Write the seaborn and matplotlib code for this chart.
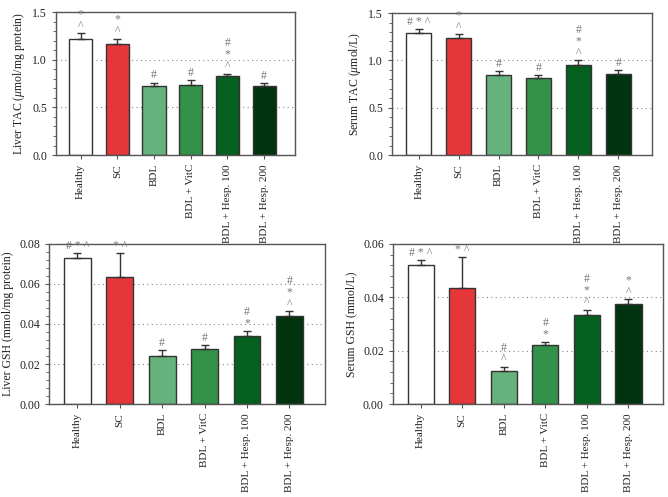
import numpy as np
import pandas as pd
import matplotlib
matplotlib.use("Agg")
import matplotlib.pyplot as plt
import seaborn as sns
from matplotlib.ticker import AutoMinorLocator, MultipleLocator, FormatStrFormatter

groups = ["Healthy", "SC", "BDL", "BDL + VitC", "BDL + Hesp. 100", "BDL + Hesp. 200"]
colors = ["#ffffff", "#e5363a", "#65b27c", "#34914a", "#04601f", "#02330f"]

# significance marks, listed top line first
liver_tac = [1.22, 1.164, 0.72, 0.734, 0.825, 0.72]
liver_tac_err = [0.06, 0.056, 0.04, 0.05, 0.03, 0.035]
liver_tac_sig = ["*\n^", "*\n^", "#", "#", "#\n*\n^", "#"]

serum_tac = [1.29, 1.234, 0.845, 0.812, 0.947, 0.861]
serum_tac_err = [0.04, 0.04, 0.043, 0.033, 0.056, 0.036]
serum_tac_sig = ["# * ^", "*\n^", "#", "#", "#\n*\n^", "#"]

liver_gsh = [0.0730, 0.0635, 0.0240, 0.0276, 0.0341, 0.0438]
liver_gsh_err = [0.0023, 0.012, 0.003, 0.0017, 0.0023, 0.0025]
liver_gsh_sig = ["# * ^", "* ^", "#", "#", "#\n*", "#\n*\n^"]

serum_gsh = [0.0521, 0.0435, 0.0122, 0.0221, 0.0333, 0.0375]
serum_gsh_err = [0.0019, 0.0116, 0.0018, 0.0012, 0.0021, 0.0019]
serum_gsh_sig = ["# * ^", "* ^", "#\n^", "#\n*", "#\n*\n^", "*\n^"]

panels = [
    dict(vals=liver_tac, err=liver_tac_err, sig=liver_tac_sig,
         ylabel="Liver TAC ($\\mu$mol/mg protein)", ymax=1.5, major=0.5, fmt="%.1f",
         pos=[0.0838, 0.688, 0.3578, 0.2877]),
    dict(vals=serum_tac, err=serum_tac_err, sig=serum_tac_sig,
         ylabel="Serum TAC ($\\mu$mol/L)", ymax=1.5, major=0.5, fmt="%.1f",
         pos=[0.5868, 0.688, 0.389, 0.2857]),
    dict(vals=liver_gsh, err=liver_gsh_err, sig=liver_gsh_sig,
         ylabel="Liver GSH (mmol/mg protein)", ymax=0.08, major=0.02, fmt="%.2f",
         pos=[0.0734, 0.1871, 0.413, 0.322]),
    dict(vals=serum_gsh, err=serum_gsh_err, sig=serum_gsh_sig,
         ylabel="Serum GSH (mmol/L)", ymax=0.06, major=0.02, fmt="%.2f",
         pos=[0.588, 0.1871, 0.405, 0.322]),
]

sns.set_style("ticks")
plt.rcParams["font.family"] = ["Liberation Serif", "DejaVu Serif"]
plt.rcParams["mathtext.fontset"] = "custom"
plt.rcParams["mathtext.it"] = "Liberation Serif:italic"
plt.rcParams["mathtext.rm"] = "Liberation Serif"

fig = plt.figure(figsize=(6.68, 4.97), dpi=100)
spine_c = "#555555"
sig_c = "#777777"

for p in panels:
    ax = fig.add_axes(p["pos"])
    df = pd.DataFrame({"group": groups, "value": p["vals"]})
    sns.barplot(data=df, x="group", y="value", hue="group", order=groups,
                palette=colors, legend=False, errorbar=None, width=0.63,
                saturation=1.0, edgecolor="#333333", linewidth=1.0, ax=ax, zorder=2)
    x = np.arange(len(groups))
    vals = np.array(p["vals"])
    err = np.array(p["err"])
    ax.errorbar(x, vals, yerr=[np.zeros_like(err), err], fmt="none",
                ecolor="#333333", elinewidth=1.0, capsize=3, capthick=1.0, zorder=3)
    for xi, top, s in zip(x, vals + err, p["sig"]):
        ax.annotate(s, (xi, top), xytext=(0, 1.0), textcoords="offset points",
                    ha="center", va="bottom", fontsize=8.5, color=sig_c,
                    linespacing=0.95, zorder=4)
    ax.set_ylim(0, p["ymax"])
    ax.set_xlim(-0.67, 5.84)
    ax.yaxis.set_major_locator(MultipleLocator(p["major"]))
    ax.yaxis.set_major_formatter(FormatStrFormatter(p["fmt"]))
    ax.yaxis.set_minor_locator(AutoMinorLocator(5))
    for gy in np.arange(p["major"], p["ymax"] - 1e-9, p["major"]):
        ax.axhline(gy, color="#888888", linestyle=(0, (1, 3)), linewidth=0.8, zorder=1)
    ax.set_xlabel("")
    ax.set_ylabel(p["ylabel"], fontsize=8.5, color="#222222")
    ax.set_xticks(x)
    ax.set_xticklabels(groups, rotation=90, fontsize=8, color="#222222")
    ax.tick_params(axis="y", labelsize=8.5, colors="#222222", length=3, width=0.8,
                   color=spine_c)
    ax.tick_params(axis="y", which="minor", length=2, width=0.6, color=spine_c)
    ax.tick_params(axis="x", length=3, width=0.8, color=spine_c)
    for sp in ax.spines.values():
        sp.set_visible(True)
        sp.set_color(spine_c)
        sp.set_linewidth(1.0)

fig.savefig("out.png", dpi=100)
